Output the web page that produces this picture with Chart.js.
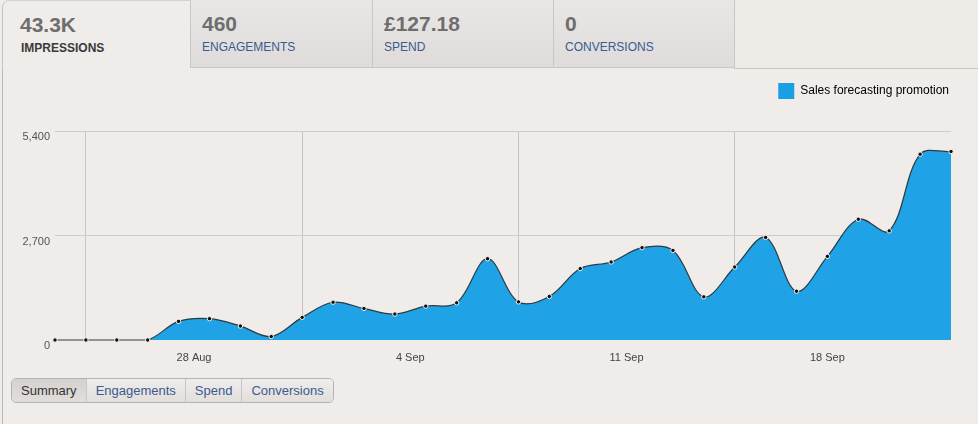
<!DOCTYPE html>
<html>
<head>
<meta charset="utf-8">
<script src="https://cdn.jsdelivr.net/npm/chart.js@4"></script>
<style>
    body { margin: 0; width: 978px; height: 424px; overflow: hidden; background: #efece9; font-family: "Liberation Sans", Arial, sans-serif; position: relative; }
    .frame { position: absolute; left: 2px; top: 8px; bottom: 0; border-left: 1px solid #bbb7b3; }
    .tab { position: absolute; top: 0; height: 68px; box-sizing: border-box; }
    .tab .num { position: absolute; left: 11px; top: 12px; font-size: 21px; font-weight: bold; color: #6e6e6e; }
    .tab .lbl { position: absolute; left: 11px; top: 40px; font-size: 12px; color: #3b5a8d; }
    .tab.active { left: 2px; width: 188px; height: 69px; background: #efece9; border-left: 1px solid #c6c2bf; border-top: 1px solid #d6d2cf; border-top-left-radius: 7px; }
    .tab.active .num { left: 17px; }
    .tab.active .lbl { left: 18px; font-weight: bold; color: #3a3a3a; }
    .tab.off { width: 182px; background: linear-gradient(#e9e7e6, #dedbda); border-left: 1px solid #c9c6c3; border-bottom: 1px solid #c9c6c3; }
    .filler { position: absolute; top: 0; left: 734px; width: 244px; height: 69px; box-sizing: border-box; background: #eeeae6; border-left: 1px solid #c9c6c3; border-bottom: 1px solid #c9c6c3; }
    #chart-box { position: absolute; left: 0; top: 70px; width: 978px; height: 300px; }
    .btns { position: absolute; left: 11px; top: 378px; display: flex; height: 25px; border: 1px solid #b5b2af; border-radius: 5px; overflow: hidden; box-sizing: border-box; }
    .btns div { font-size: 13px; line-height: 23px; padding: 0 9px; color: #3b5a8d; background: linear-gradient(#efedeb, #e1dedc); border-left: 1px solid #c8c5c2; }
    .btns div:first-child { border-left: none; color: #333; background: linear-gradient(#d4d1ce, #e0dddb); }
</style>
</head>
<body>
<div class="frame"></div>
<div class="tab active"><div class="num">43.3K</div><div class="lbl">IMPRESSIONS</div></div>
<div class="tab off" style="left:190px"><div class="num">460</div><div class="lbl">ENGAGEMENTS</div></div>
<div class="tab off" style="left:372px"><div class="num">£127.18</div><div class="lbl">SPEND</div></div>
<div class="tab off" style="left:553px"><div class="num">0</div><div class="lbl">CONVERSIONS</div></div>
<div class="filler"></div>

<div id="chart-box"><canvas id="impressionsChart"></canvas></div>

<div class="btns">
    <div>Summary</div><div>Engagements</div><div>Spend</div><div>Conversions</div>
</div>

<script>
// Data (one point per day, 24 Aug - 22 Sep)
const days = ['24 Aug', '25 Aug', '26 Aug', '27 Aug', '28 Aug', '29 Aug', '30 Aug', '31 Aug',
    '1 Sep', '2 Sep', '3 Sep', '4 Sep', '5 Sep', '6 Sep', '7 Sep', '8 Sep', '9 Sep', '10 Sep',
    '11 Sep', '12 Sep', '13 Sep', '14 Sep', '15 Sep', '16 Sep', '17 Sep', '18 Sep', '19 Sep',
    '20 Sep', '21 Sep', '22 Sep'];
const impressions = [0, 0, 0, 0, 480, 550, 360, 90, 585, 975, 815, 670, 875, 960, 2100, 985,
    1125, 1845, 2015, 2385, 2315, 1115, 1885, 2650, 1260, 2160, 3120, 2820, 4800, 4870];
const seriesName = 'Sales forecasting promotion';

// Axis ticks
const yTicks = [0, 2700, 5400];
const weekLines = [1, 8, 15, 22];           // day index of the vertical grid lines
const dateLabels = ['28 Aug', '4 Sep', '11 Sep', '18 Sep'];
const dateLabelPos = [4.5, 11.5, 18.5, 25];  // day index under each label

const points = impressions.map((v, i) => ({ x: i, y: v }));

// make room between legend and plot
const legendSpacer = {
    id: 'legendSpacer',
    beforeInit(chart) {
        const fit = chart.legend.fit;
        chart.legend.fit = function () {
            fit.call(this);
            this.height += 22;
        };
    }
};

Chart.defaults.font.family = '"Liberation Sans", Arial, sans-serif';

new Chart(document.getElementById('impressionsChart'), {
    type: 'line',
    data: {
        datasets: [{
            label: seriesName,
            data: points,
            fill: 'origin',
            backgroundColor: '#1fa2e6',
            borderColor: '#2e3a40',
            borderWidth: 1.2,
            tension: 0.35,
            pointRadius: 2.2,
            pointBackgroundColor: '#111',
            pointBorderColor: '#f4f2f0',
            pointBorderWidth: 1,
            clip: false
        }]
    },
    options: {
        responsive: true,
        maintainAspectRatio: false,
        animation: false,
        layout: { padding: { top: 11, right: 27, left: 0, bottom: 0 } },
        plugins: {
            legend: {
                position: 'top',
                align: 'end',
                labels: {
                    boxWidth: 16,
                    boxHeight: 16,
                    padding: 2,
                    color: '#6a6a6a',
                    font: { size: 12 },
                    generateLabels: (chart) => [{
                        text: seriesName,
                        fillStyle: '#1a9fe5',
                        strokeStyle: '#1a9fe5',
                        lineWidth: 0,
                        datasetIndex: 0
                    }]
                }
            },
            tooltip: { enabled: false }
        },
        scales: {
            x: {
                type: 'linear',
                min: 0,
                max: days.length - 1,
                afterFit: (scale) => { scale.height = 30; },
                afterBuildTicks: (scale) => {
                    scale.ticks = weekLines.concat(dateLabelPos).map(v => ({ value: v }));
                },
                ticks: {
                    autoSkip: false,
                    maxRotation: 0,
                    padding: 11,
                    color: '#444',
                    font: { size: 11 },
                    callback: (v) => {
                        const i = dateLabelPos.indexOf(v);
                        return i >= 0 ? dateLabels[i] : '';
                    }
                },
                grid: {
                    drawTicks: false,
                    color: (ctx) => weekLines.includes(ctx.tick && ctx.tick.value) ? '#c9c5c2' : 'rgba(0,0,0,0)'
                },
                border: { display: false }
            },
            y: {
                min: 0,
                max: 5400,
                afterFit: (scale) => { scale.width = 55; },
                afterBuildTicks: (scale) => {
                    scale.ticks = yTicks.map(v => ({ value: v }));
                },
                ticks: {
                    padding: 5,
                    labelOffset: 6,
                    color: '#555',
                    font: { size: 11 },
                    callback: (v) => v.toLocaleString('en-GB')
                },
                grid: {
                    drawTicks: false,
                    color: (ctx) => ctx.tick && ctx.tick.value === 0 ? 'rgba(0,0,0,0)' : '#d0ccc9'
                },
                border: { display: false }
            }
        }
    },
    plugins: [legendSpacer]
});
</script>
</body>
</html>
